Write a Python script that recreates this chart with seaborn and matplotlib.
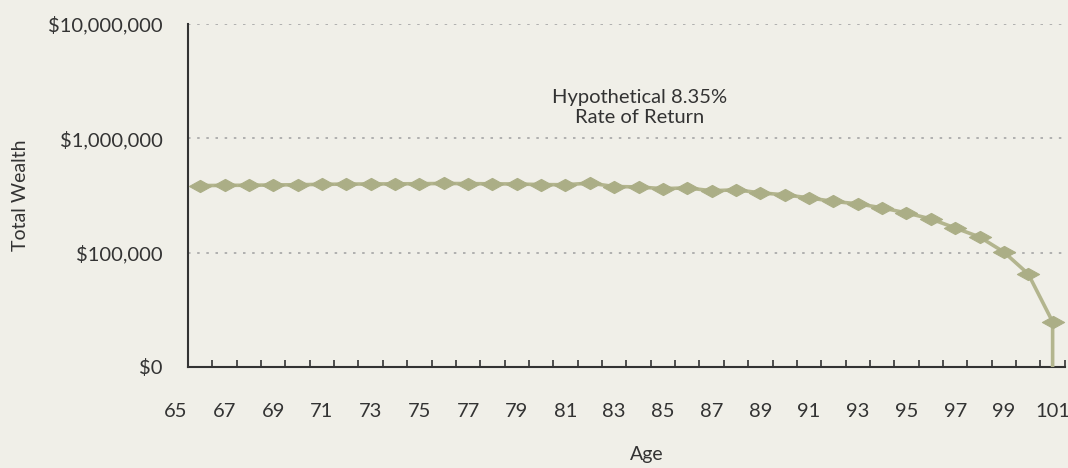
import numpy as np
import matplotlib
matplotlib.use("Agg")
import matplotlib.pyplot as plt
from matplotlib.path import Path
import seaborn as sns

# wealth by age, last point is the depletion to $0
ages = list(range(66, 102)) + [101]
wealth = [385000, 387000, 388000, 390000, 392000, 395000, 397000, 398000,
          399000, 400000, 402000, 401000, 399000, 398000, 393000, 392000,
          405000, 378000, 375000, 362000, 368000, 347000, 354000, 333000,
          320000, 301000, 280000, 267000, 246000, 222000, 197000, 164000,
          137000, 101000, 65000, 24800, 0]

age_labels = list(range(65, 102, 2))
y_ticks = [1e4, 1e5, 1e6, 1e7]
y_labels = ["$0", "$100,000", "$1,000,000", "$10,000,000"]

bg = "#F0EFE8"
green = "#ABAE86"
dark = "#333333"

sns.set_theme(style="white")
plt.rcParams["font.family"] = ["Lato", "DejaVu Sans"]

fig = plt.figure(figsize=(10.68, 4.68), dpi=100, facecolor=bg)
ax = fig.add_axes([0.176, 0.216, 0.821, 0.733], facecolor=bg)

# flattened diamond marker
diamond = Path([(0, -0.55), (1, 0), (0, 0.55), (-1, 0), (0, -0.55)],
               [Path.MOVETO, Path.LINETO, Path.LINETO, Path.LINETO, Path.CLOSEPOLY])

sns.lineplot(x=ages, y=wealth, ax=ax, estimator=None, sort=False,
             color="#B3B58E", linewidth=2.6, marker=diamond, markersize=16,
             markerfacecolor=green, markeredgecolor=green,
             markevery=slice(0, 36), zorder=3)

ax.set_yscale("log", nonpositive="clip")
ax.set_ylim(1e4, 1e7)
ax.set_xlim(65.5, 101.5)

ax.set_yticks(y_ticks)
ax.set_yticklabels(y_labels)
ax.yaxis.set_minor_locator(matplotlib.ticker.NullLocator())
ax.tick_params(axis="y", which="major", length=0, pad=18, labelsize=14.5, labelcolor=dark)

ax.set_xticks([])
ax.set_xticks(np.arange(65.5, 102, 1), minor=True)
ax.tick_params(axis="x", which="minor", direction="in", length=5, width=1.2,
               color=dark, bottom=True)

for a in age_labels:
    ax.text(a, -0.13, str(a), transform=ax.get_xaxis_transform(),
            ha="center", va="center", fontsize=14.5, color=dark, clip_on=False)

ax.grid(axis="y", which="major", linestyle=(0, (1.5, 4)), color="#A5A5A5", linewidth=1.2)
ax.grid(axis="x", visible=False)

for side in ["top", "right"]:
    ax.spines[side].set_visible(False)
for side in ["left", "bottom"]:
    ax.spines[side].set_color(dark)
    ax.spines[side].set_linewidth(1.5)

ax.set_xlabel("Age", fontsize=14, color=dark)
ax.xaxis.set_label_coords(0.523, -0.232)
ax.set_ylabel("Total Wealth", fontsize=14, color=dark, labelpad=14)

ax.text(84.05, 1.85e6, "Hypothetical 8.35%\nRate of Return", ha="center", va="center",
        fontsize=14.5, color=dark, linespacing=1.25)

fig.savefig("out.png", dpi=100, facecolor=bg)
